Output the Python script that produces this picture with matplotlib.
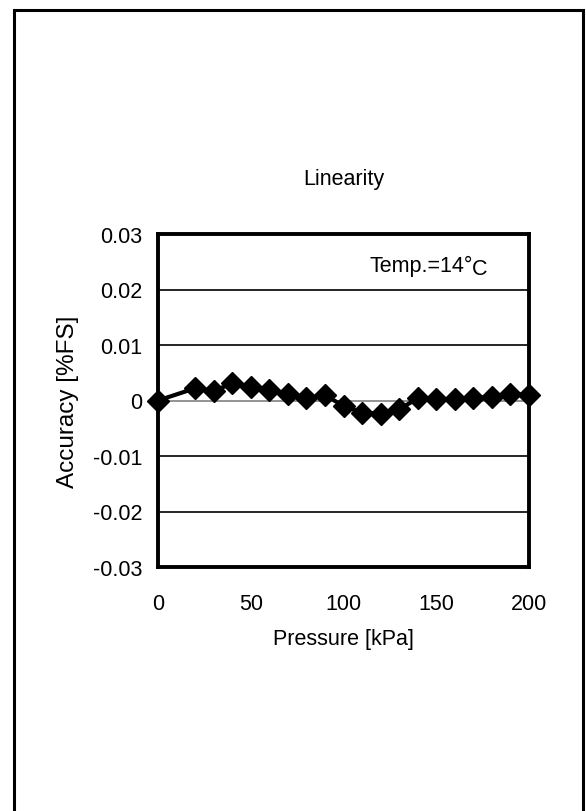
import matplotlib
matplotlib.use('Agg')
import matplotlib.pyplot as plt
from matplotlib.patches import Rectangle

# Datos
pressure = [0, 20, 30, 40, 50, 60, 70, 80, 90, 100,
            110, 120, 130, 140, 150, 160, 170, 180, 190, 200]
accuracy = [0.0, 0.0022, 0.0017, 0.0031, 0.0024, 0.0019, 0.0011, 0.0004, 0.001, -0.001,
            -0.0022, -0.0024, -0.0016, 0.0004, 0.0002, 0.0002, 0.0004, 0.0007, 0.0012, 0.001]
yticks = [-0.03, -0.02, -0.01, 0, 0.01, 0.02, 0.03]
ytick_labels = ['-0.03', '-0.02', '-0.01', '0', '0.01', '0.02', '0.03']
xticks = [0, 50, 100, 150, 200]

plt.rcParams['font.family'] = ['Liberation Sans', 'DejaVu Sans']
plt.rcParams['font.size'] = 15.5

fig = plt.figure(figsize=(5.86, 8.12), dpi=100)

# Marco exterior (sigue por debajo de la imagen)
fig.patches.append(Rectangle((14 / 586, -0.1), 569 / 586, 1.1 - 11 / 812,
                             transform=fig.transFigure, fill=False,
                             edgecolor='black', linewidth=2.2))

ax = fig.add_axes([158 / 586, 1 - 568 / 812, 371 / 586, 333 / 812])

# Líneas de cuadrícula
for y in yticks[1:-1]:
    if y == 0:
        ax.axhline(y, color='#808080', linewidth=1.2, zorder=1)
    else:
        ax.axhline(y, color='black', linewidth=1.2, zorder=1)

ax.plot(pressure, accuracy, color='black', linewidth=3.0, marker='D',
        markersize=11.5, zorder=3, clip_on=False)

ax.set_xlim(0, 200)
ax.set_ylim(-0.03, 0.03)
ax.set_yticks(yticks)
ax.set_yticklabels(ytick_labels)
ax.set_xticks(xticks)
ax.tick_params(axis='x', length=0, pad=19)
ax.tick_params(axis='y', length=0, pad=11)

for s in ax.spines.values():
    s.set_linewidth(2.8)

ax.set_title('Linearity', fontsize=15.5, pad=36)
ax.set_xlabel('Pressure [kPa]', labelpad=10)
ax.set_ylabel('Accuracy [%FS]', fontsize=17.5, labelpad=10)

ax.text(370 / 586, 1 - 266 / 812, 'Temp.=14°', transform=fig.transFigure,
        ha='left', va='center')
ax.annotate('C', xy=(472 / 586, 1 - 266 / 812), xycoords='figure fraction',
            xytext=(0, -2.5), textcoords='offset points', ha='left', va='center')

plt.savefig('out.png', dpi=100)
